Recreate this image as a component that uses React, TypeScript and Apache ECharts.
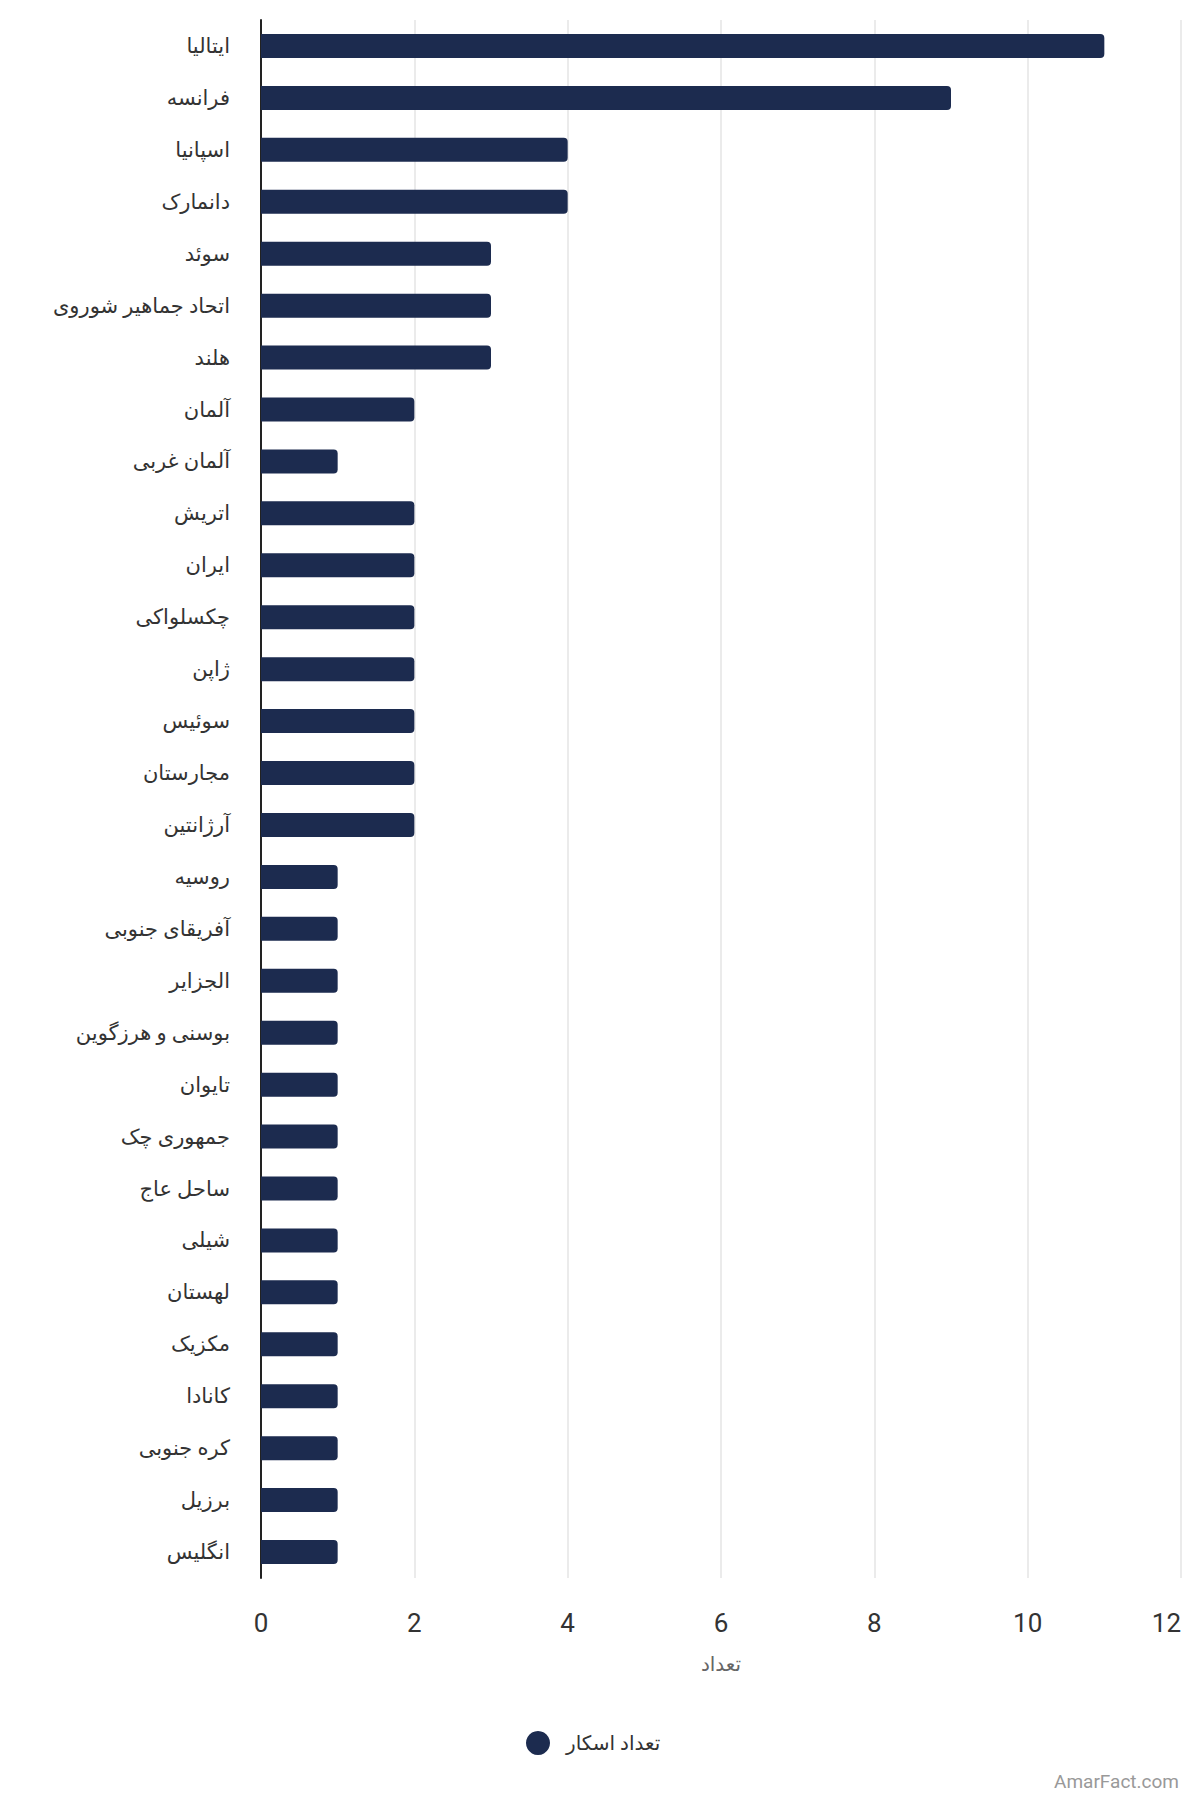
import { useEffect, useRef } from 'react'
import * as echarts from 'echarts'

// ---------- data ----------
const countries = [
  'ایتالیا',
  'فرانسه',
  'اسپانیا',
  'دانمارک',
  'سوئد',
  'اتحاد جماهیر شوروی',
  'هلند',
  'آلمان',
  'آلمان غربی',
  'اتریش',
  'ایران',
  'چکسلواکی',
  'ژاپن',
  'سوئیس',
  'مجارستان',
  'آرژانتین',
  'روسیه',
  'آفریقای جنوبی',
  'الجزایر',
  'بوسنی و هرزگوین',
  'تایوان',
  'جمهوری چک',
  'ساحل عاج',
  'شیلی',
  'لهستان',
  'مکزیک',
  'کانادا',
  'کره جنوبی',
  'برزیل',
  'انگلیس',
]

const oscarCounts = [
  11, 9, 4, 4, 3, 3, 3, 2, 1, 2, 2, 2, 2, 2, 2, 2, 1, 1, 1, 1, 1, 1, 1, 1, 1, 1,
  1, 1, 1, 1,
]

const SERIES_NAME = 'تعداد اسکار'
const AXIS_NAME = 'تعداد'
const X_MIN = 0
const X_MAX = 12
const X_STEP = 2

const BAR_COLOR = '#1c2b4f'
const TEXT_COLOR = '#333333'
const FONT = 'Roboto, "DejaVu Sans", sans-serif'

export default function App() {
  const ref = useRef<HTMLDivElement>(null)

  useEffect(() => {
    document.body.style.margin = '0'
    if (!ref.current) return
    const chart = echarts.init(ref.current, undefined, { renderer: 'svg' })

    chart.setOption({
      animation: false,
      backgroundColor: '#ffffff',
      textStyle: { fontFamily: FONT },
      grid: { left: 261, right: 19, top: 20, bottom: 222, containLabel: false },
      legend: {
        left: 521,
        top: 1726,
        icon: 'circle',
        itemWidth: 24,
        itemHeight: 24,
        data: [SERIES_NAME],
        textStyle: {
          color: TEXT_COLOR,
          fontSize: 20,
          fontFamily: FONT,
          padding: [0, 0, 0, 11],
        },
      },
      xAxis: {
        type: 'value',
        min: X_MIN,
        max: X_MAX,
        interval: X_STEP,
        name: AXIS_NAME,
        nameLocation: 'middle',
        nameGap: 76,
        nameTextStyle: { color: '#666666', fontSize: 20, fontFamily: FONT },
        axisLine: { show: false },
        axisTick: { show: false },
        axisLabel: {
          color: TEXT_COLOR,
          fontSize: 26,
          margin: 32,
          fontFamily: FONT,
          alignMaxLabel: 'right',
        },
        splitLine: { lineStyle: { color: '#e4e4e4', width: 1.5 } },
      },
      yAxis: {
        type: 'category',
        inverse: true,
        data: countries,
        axisLine: { show: true, lineStyle: { color: '#222222', width: 2 } },
        axisTick: { show: false },
        axisLabel: {
          color: TEXT_COLOR,
          fontSize: 21,
          margin: 31,
          fontFamily: FONT,
          padding: [0, 0, 4, 0],
        },
      },
      series: [
        {
          name: SERIES_NAME,
          type: 'bar',
          data: oscarCounts,
          barWidth: 24,
          itemStyle: { color: BAR_COLOR, borderRadius: [0, 4, 4, 0] },
        },
      ],
      graphic: [
        {
          type: 'text',
          right: 21,
          top: 1772,
          style: {
            text: 'AmarFact.com',
            fill: '#999999',
            fontSize: 19,
            fontFamily: FONT,
          },
        },
      ],
    })

    return () => chart.dispose()
  }, [])

  return <div ref={ref} style={{ width: 1200, height: 1800 }} />
}
